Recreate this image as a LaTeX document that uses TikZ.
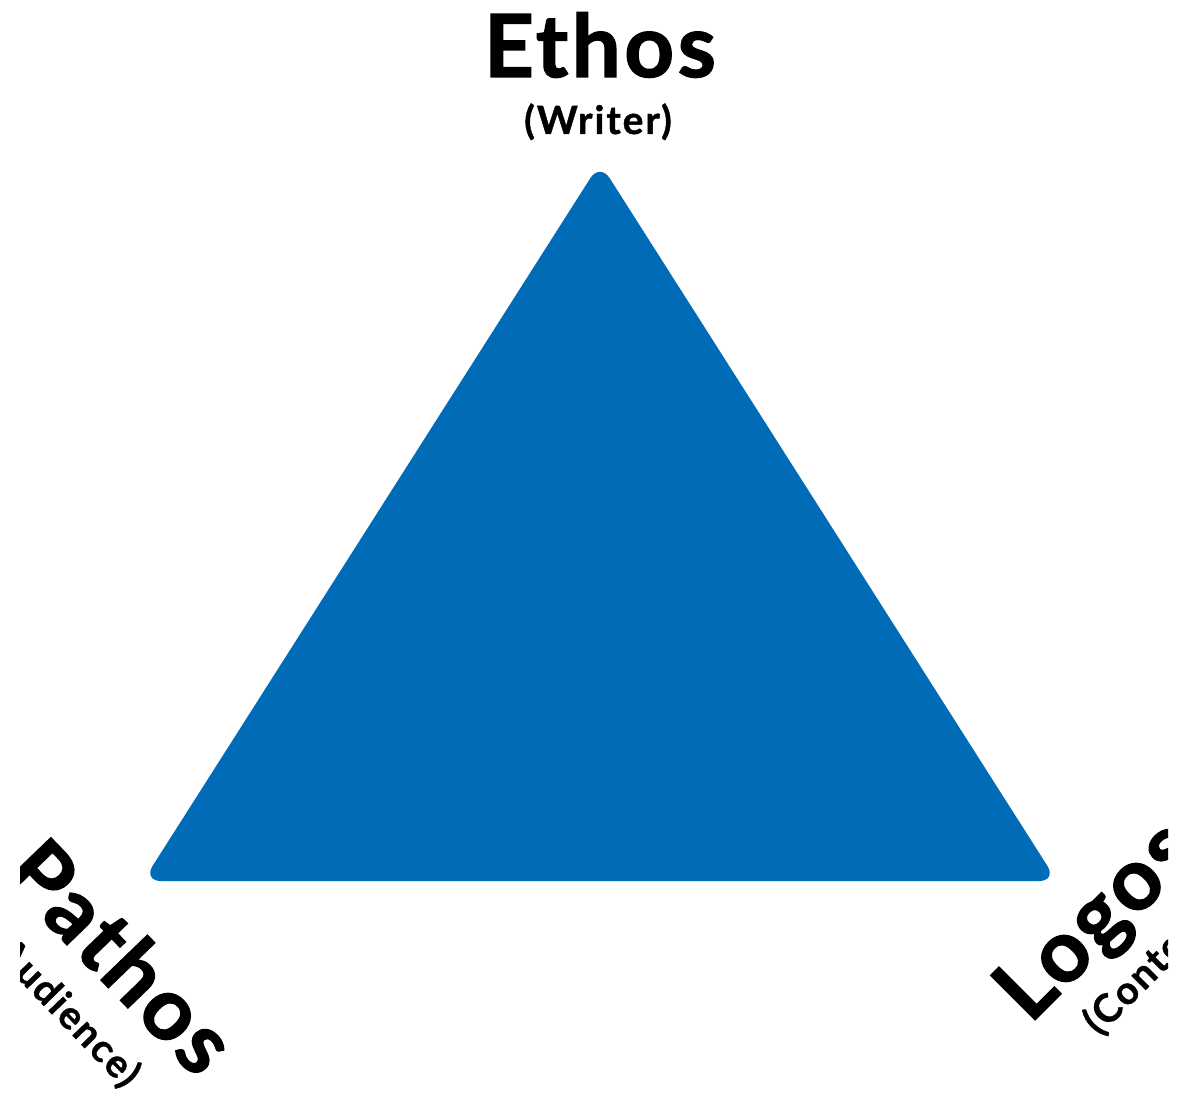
\documentclass[tikz,border=0pt]{standalone}
\usepackage{fontspec}
\setmainfont{Lato}
\newfontfamily\bigfont{Lato}[LetterSpace=4, FakeBold=1.5]
\newfontfamily\subfont{Lato}[LetterSpace=5, FakeBold=1]
\definecolor{triblue}{RGB}{0,107,182}
\begin{document}
\begin{tikzpicture}[x=1pt,y=-1pt,
  bigword/.style={font=\bigfont\bfseries\fontsize{87}{87}\selectfont, inner sep=0pt, anchor=base},
  subword/.style={font=\subfont\bfseries\fontsize{39}{39}\selectfont, inner sep=0pt, anchor=base}]
\fill[white] (0,0) rectangle (1197,1102);
\useasboundingbox (0,0) rectangle (1197,1102);
% triangle
\coordinate (A) at (600,163);
\coordinate (B) at (143,881);
\coordinate (C) at (1057,881);
\fill[triblue, rounded corners=18pt] (A) -- (B) -- (C) -- cycle;
% Ethos
\node[bigword] (ethos) at (600,77) {Ethos};
\node[subword] (writer) at (598,134) {(Writer)};
\begin{scope}
\clip (20,0) rectangle (1168,1102);
\begin{scope}[shift={(97,976)}, rotate=-46, transform shape]
\node[bigword] (pathos) at (3,0) {Pathos};
\node[subword] (audience) at (0,59) {(Audience)};
\end{scope}
\begin{scope}[shift={(1115,940)}, rotate=45, transform shape]
\node[bigword] (logos) at (0,0) {Logos};
\node[subword] (content) at (9,57) {(Content)};
\end{scope}
\end{scope}
\end{tikzpicture}
\end{document}
